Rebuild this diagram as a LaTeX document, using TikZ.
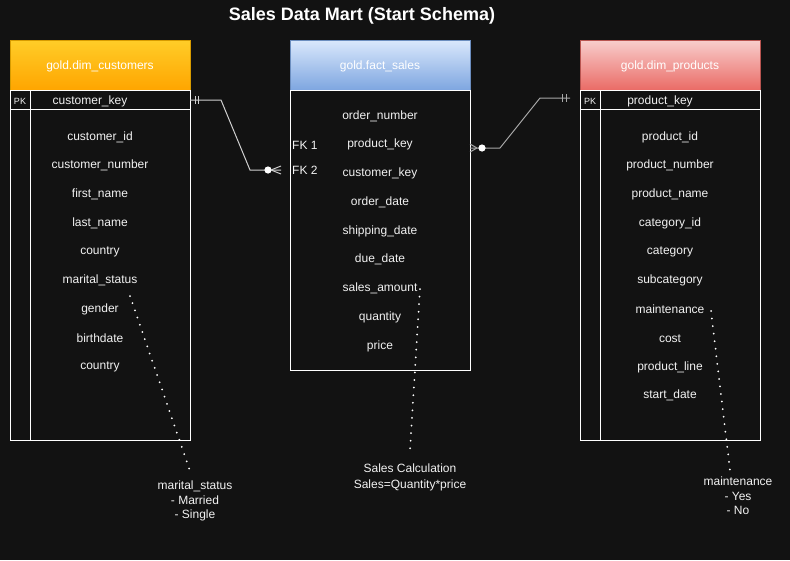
\documentclass[tikz,border=0pt]{standalone}
\usepackage{fontspec}
\setmainfont{Liberation Sans}
\definecolor{bg}{HTML}{121212}
\definecolor{txt}{HTML}{F2F2F2}
\definecolor{orT}{HTML}{FFCD28}
\definecolor{orB}{HTML}{FFA500}
\definecolor{orD}{HTML}{D79B00}
\definecolor{blT}{HTML}{DAE8FC}
\definecolor{blB}{HTML}{7EA6E0}
\definecolor{blD}{HTML}{6C8EBF}
\definecolor{rdT}{HTML}{F8CECC}
\definecolor{rdB}{HTML}{EA6B66}
\definecolor{rdD}{HTML}{B85450}
\definecolor{connA}{HTML}{D0D0D0}
\definecolor{connB}{HTML}{A8A8A8}
\begin{document}
\begin{tikzpicture}[x=1pt,y=-1pt,
  hdr/.style={draw, line width=1pt, minimum width=180pt, minimum height=50pt,
    inner sep=0pt, outer sep=0pt},
  hdrtext/.style={text=white, inner sep=0pt, font=\fontsize{12}{14}\selectfont},
  tbody/.style={draw=white, line width=1pt, minimum width=180pt, inner sep=0pt, outer sep=0pt},
  field/.style={text=txt, inner sep=0pt, font=\fontsize{12}{14}\selectfont},
  pk/.style={text=txt, inner sep=0pt, font=\fontsize{9}{10}\selectfont},
  fk/.style={text=txt, inner sep=0pt, anchor=west, font=\fontsize{12}{14}\selectfont},
  note/.style={text=txt, inner sep=0pt, align=center, font=\fontsize{12}{14.5}\selectfont},
  grid/.style={draw=white, line width=1pt},
  connA/.style={draw=connA, line width=1pt},
  connB/.style={draw=connB, line width=1pt},
  dots/.style={draw=white, line width=2pt, line cap=round, dash pattern=on 0pt off 7.6pt}
]
\fill[bg] (0,0) rectangle (790,560);
\useasboundingbox (0,0) rectangle (790,560);

% title
\node[text=white, inner sep=0pt, font=\fontsize{18}{20}\selectfont\bfseries] (title) at (362,16) {Sales Data Mart (Start Schema)};

% ---------- customers ----------
\node[hdr, draw=orD, top color=orT, bottom color=orB] (chdr) at (100,65) {};
\node[hdrtext] (chdrt) at (100,66.5) {gold.dim\_customers};
\node[tbody, minimum height=350pt] (cbody) at (100,265) {};
\draw[grid] ([yshift=-19pt]cbody.north west) -- ([yshift=-19pt]cbody.north east);
\draw[grid] ([xshift=20pt]cbody.north west) -- ([xshift=20pt]cbody.south west);
\node[pk] (cpk) at (20,101) {PK};
\node[field] (ckey) at (90,101.5) {customer\_key};
\foreach \t [count=\i] in {customer\_id, customer\_number, first\_name, last\_name, country, marital\_status, gender, birthdate, country}
  \node[field] (cf\i) at (100,{137+28.75*(\i-1)}) {\t};

% ---------- fact ----------
\node[hdr, draw=blD, top color=blT, bottom color=blB] (fhdr) at (380,65) {};
\node[hdrtext] (fhdrt) at (380,66.5) {gold.fact\_sales};
\node[tbody, minimum height=280pt] (fbody) at (380,230) {};
\foreach \t [count=\i] in {order\_number, product\_key, customer\_key, order\_date, shipping\_date, due\_date, sales\_amount, quantity, price}
  \node[field] (ff\i) at (380,{116+28.75*(\i-1)}) {\t};
\node[fk] (fk1) at (292,145) {FK 1};
\node[fk] (fk2) at (292,170) {FK 2};

% ---------- products ----------
\node[hdr, draw=rdD, top color=rdT, bottom color=rdB] (phdr) at (670,65) {};
\node[hdrtext] (phdrt) at (670,66.5) {gold.dim\_products};
\node[tbody, minimum height=350pt] (pbody) at (670,265) {};
\draw[grid] ([yshift=-19pt]pbody.north west) -- ([yshift=-19pt]pbody.north east);
\draw[grid] ([xshift=20pt]pbody.north west) -- ([xshift=20pt]pbody.south west);
\node[pk] (ppk) at (590,101) {PK};
\node[field] (pkey) at (660,101.5) {product\_key};
\foreach \t [count=\i] in {product\_id, product\_number, product\_name, category\_id, category, subcategory, maintenance, cost, product\_line, start\_date}
  \node[field] (pf\i) at (670,{137+28.75*(\i-1)}) {\t};

% ---------- connectors ----------
\coordinate (c1s) at ([yshift=-10pt]cbody.north east);
\coordinate (c1e) at (281,170);
\draw[connA] (c1s) -- (221,100) -- (250,170) -- (c1e);
\draw[connA] (195,96) -- (195,104);
\draw[connA] (198,96) -- (198,104);
\fill[white] (268,170) circle (3.6);
\draw[connA] (271,170) -- (281,166) (271,170) -- (281,174);

\coordinate (c2s) at ([yshift=-58pt]fbody.north east);
\coordinate (c2e) at (570,98);
\draw[connB] (c2s) -- (500,148) -- (540,98) -- (c2e);
\draw[connB] (562,94) -- (562,102);
\draw[connB] (566,94) -- (566,102);
\fill[white] (482,148) circle (3.6);
\draw[connB] (477,148) -- (470,144) (477,148) -- (470,152);

% ---------- notes ----------
\node[note] (n1) at (195,501) {marital\_status\\- Married\\- Single};
\node[note, font=\fontsize{12}{16}\selectfont] (n2) at (410,477) {Sales Calculation\\Sales=Quantity*price};
\node[note] (n3) at (738,496) {maintenance\\- Yes\\- No};

\coordinate (d1a) at (130,296);
\coordinate (d1b) at (190,471);
\draw[dots] (d1a) -- (d1b);
\coordinate (d2a) at (420,289);
\coordinate (d2b) at (410,450);
\draw[dots] (d2a) -- (d2b);
\coordinate (d3a) at (711,311);
\coordinate (d3b) at (730,470);
\draw[dots] (d3a) -- (d3b);
\end{tikzpicture}
\end{document}
